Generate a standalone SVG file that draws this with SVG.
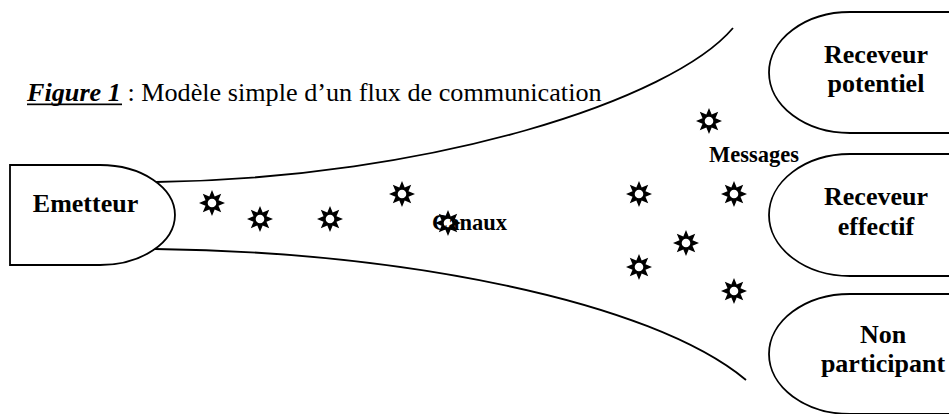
<svg xmlns="http://www.w3.org/2000/svg" xmlns:xlink="http://www.w3.org/1999/xlink" width="949" height="414" viewBox="0 0 949 414">
<style>
.shape{fill:#fff;stroke:#000;stroke-width:1.8}
.line{fill:none;stroke:#000;stroke-width:1.8}
.lbl{font-family:"Liberation Serif","Times New Roman",serif;font-weight:bold;font-size:26px;fill:#000;text-anchor:middle}
.sm{font-size:22.5px;text-anchor:start}
.title{font-family:"Liberation Serif","Times New Roman",serif;font-size:26.2px;fill:#000}
</style>
<defs>
<path id="star" fill="#000" fill-rule="evenodd" d="M0,-13 L2.68,-6.47 L9.19,-9.19 L6.47,-2.68 L13,0 L6.47,2.68 L9.19,9.19 L2.68,6.47 L0,13 L-2.68,6.47 L-9.19,9.19 L-6.47,2.68 L-13,0 L-6.47,-2.68 L-9.19,-9.19 L-2.68,-6.47 Z M0,-4.3 A4.3,4.3 0 1,0 0,4.3 A4.3,4.3 0 1,0 0,-4.3 Z"/>
</defs>
<rect width="949" height="414" fill="#fff"/>
<g id="title">
<text class="title" x="27" y="101"><tspan font-weight="bold" font-style="italic">Figure 1</tspan> : Modèle simple d’un flux de communication</text>
<rect x="27" y="103.5" width="95" height="1.7" fill="#000"/>
</g>
<g id="connectors">
<path class="line" d="M156,182 C432,178 672,100 733,28"/>
<path class="line" d="M155,249 C400,252 650,300 746,380"/>
</g>
<g id="emetteur">
<path class="shape" d="M100,165 H10 V265 H100 A75,50 0 0 0 100,165 Z"/>
<text class="lbl" x="85.5" y="212">Emetteur</text>
</g>
<g id="receveur-potentiel">
<path class="shape" d="M951,12 H850 A81,60.5 0 0 0 850,133 H951"/>
<text class="lbl" x="876" y="63">Receveur</text>
<text class="lbl" x="876" y="92">potentiel</text>
</g>
<g id="receveur-effectif">
<path class="shape" d="M951,154 H850 A81,61 0 0 0 850,276 H951"/>
<text class="lbl" x="876" y="205">Receveur</text>
<text class="lbl" x="876" y="235">effectif</text>
</g>
<g id="non-participant">
<path class="shape" d="M951,294 H850 A81,60 0 0 0 850,414 H951"/>
<text class="lbl" x="883" y="343">Non</text>
<text class="lbl" x="883" y="372">participant</text>
</g>
<g id="canaux">
<text class="lbl sm" x="432" y="230">Canaux</text>
</g>
<g id="messages">
<text class="lbl sm" x="709" y="162">Messages</text>
<use xlink:href="#star" x="212" y="203"/>
<use xlink:href="#star" x="260" y="219"/>
<use xlink:href="#star" x="330" y="219"/>
<use xlink:href="#star" x="402" y="194"/>
<use xlink:href="#star" x="448" y="223"/>
<use xlink:href="#star" x="709" y="121"/>
<use xlink:href="#star" x="639" y="194"/>
<use xlink:href="#star" x="734" y="194"/>
<use xlink:href="#star" x="686" y="243"/>
<use xlink:href="#star" x="639" y="267"/>
<use xlink:href="#star" x="734" y="291"/>
</g>
</svg>
